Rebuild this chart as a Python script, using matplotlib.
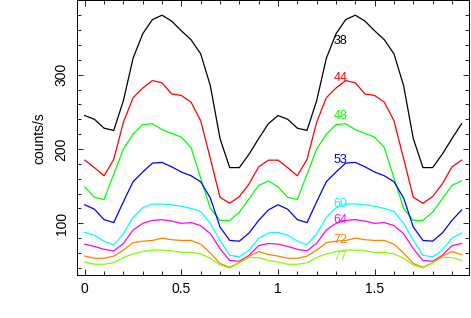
import numpy as np
import matplotlib
matplotlib.use("Agg")
import matplotlib.pyplot as plt
from matplotlib.ticker import MultipleLocator

plt.rcParams["font.family"] = ["Liberation Sans", "DejaVu Sans"]

# phase bins (one cycle, shown twice)
phase = np.arange(0, 2, 0.05)

# pulse profiles, one cycle each (counts/s)
p38 = [245, 240, 228, 225, 265, 322, 355, 374, 380, 372, 359, 347, 328, 285, 214, 175, 175, 193, 214, 234]
p44 = [185, 175, 164, 186, 236, 269, 282, 292, 289, 274, 272, 263, 238, 187, 135, 127, 136, 153, 176, 185]
p48 = [149, 135, 132, 166, 200, 220, 233, 234, 226, 221, 216, 202, 161, 120, 104, 104, 115, 133, 151, 157]
p53 = [125, 119, 105, 101, 129, 156, 169, 181, 182, 176, 169, 164, 156, 134, 95, 77, 76, 87, 104, 118]
p60 = [88, 84, 76, 71, 86, 108, 121, 126, 126, 125, 123, 120, 116, 100, 77, 57, 55, 64, 80, 87]
p64 = [72, 69, 65, 63, 73, 91, 100, 104, 105, 103, 100, 101, 97, 86, 66, 50, 49, 57, 70, 73]
p72 = [56, 53, 53, 56, 64, 74, 76, 77, 80, 78, 77, 77, 72, 60, 46, 41, 47, 56, 62, 58]
p77 = [48, 45, 45, 47, 54, 59, 62, 64, 64, 63, 61, 61, 59, 53, 44, 40, 47, 54, 54, 50]

labels = ["38", "44", "48", "53", "60", "64", "72", "77"]
label_y = [345, 296, 245, 185, 126, 105, 78, 55]
colors = ["black", "#ff0000", "#00ff00", "#0000ff", "#00ffff", "#ff00ff", "#ff8000", "#80ff00"]

profiles = [p38, p44, p48, p53, p60, p64, p72, p77]

fig = plt.figure(figsize=(4.71, 3.18), dpi=100)
ax = fig.add_axes([0.1635, 0.134, 0.833, 0.865])

for prof, col, lab, ly in zip(profiles, colors, labels, label_y):
    y = np.concatenate([prof, prof])
    ax.plot(phase, y, color=col, lw=0.9)
    ax.text(1.288, ly, lab, color=col, fontsize=9, ha="left", va="center")

ax.set_xlim(-0.04, 1.99)
ax.set_ylim(30, 400)
ax.xaxis.set_major_locator(MultipleLocator(0.5))
ax.xaxis.set_minor_locator(MultipleLocator(0.1))
ax.yaxis.set_major_locator(MultipleLocator(100))
ax.yaxis.set_minor_locator(MultipleLocator(20))
ax.set_xticks([0, 0.5, 1, 1.5])
ax.set_xticklabels(["0", "0.5", "1", "1.5"])
ax.set_yticks([100, 200, 300])
ax.set_yticklabels(["100", "200", "300"], rotation=90, va="center")

ax.tick_params(which="both", direction="in", top=True, right=True, width=0.6, labelsize=10)
ax.tick_params(which="major", length=4.3, pad=5)
ax.tick_params(axis="y", which="major", pad=6)
ax.tick_params(which="minor", length=2.9)
for s in ax.spines.values():
    s.set_linewidth(0.7)

ax.set_ylabel("counts/s", fontsize=10, labelpad=6)

plt.savefig("out.png", dpi=100)
